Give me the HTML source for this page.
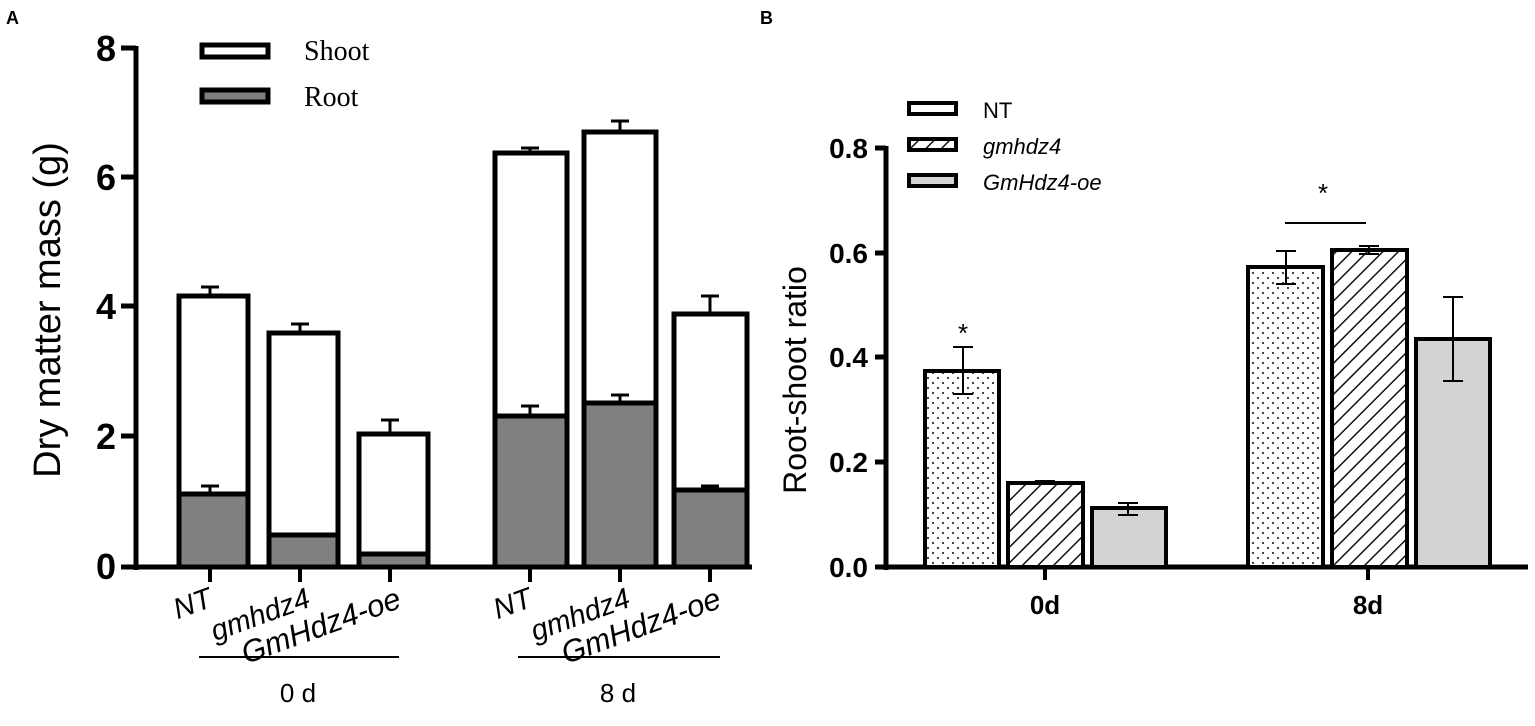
<!DOCTYPE html>
<html><head><meta charset="utf-8"><style>
html,body{margin:0;padding:0;background:#fff}
svg{display:block}
text{font-family:"Liberation Sans",Arial,sans-serif}
</style></head><body>
<svg width="1535" height="726" viewBox="0 0 1535 726" xmlns="http://www.w3.org/2000/svg">
<defs>
<pattern id="dots" width="10" height="10" patternUnits="userSpaceOnUse">
<rect width="10" height="10" fill="#fff"/><circle cx="3" cy="3" r="1.1" fill="#333"/><circle cx="8" cy="8" r="1.1" fill="#333"/>
</pattern>
<pattern id="hatch" width="11" height="11" patternUnits="userSpaceOnUse" patternTransform="rotate(45)">
<rect width="11" height="11" fill="#fff"/><line x1="0" y1="0" x2="0" y2="11" stroke="#111" stroke-width="3"/>
</pattern>
</defs>
<text x="6" y="24" font-size="18" font-weight="bold">A</text>
<g stroke="#000" stroke-width="5" fill="none">
<line x1="136" y1="46" x2="136" y2="570"/>
<line x1="121" y1="48" x2="136" y2="48"/>
<line x1="121" y1="177" x2="136" y2="177"/>
<line x1="121" y1="306" x2="136" y2="306"/>
<line x1="121" y1="436" x2="136" y2="436"/>
<line x1="121" y1="567" x2="752" y2="567"/>
</g>
<g font-size="36" font-weight="bold" text-anchor="end">
<text x="116" y="61">8</text><text x="116" y="190">6</text><text x="116" y="319">4</text><text x="116" y="449">2</text><text x="116" y="579">0</text>
</g>
<text transform="translate(60,310) rotate(-90)" font-size="38" text-anchor="middle">Dry matter mass (g)</text>
<rect x="202" y="45" width="66" height="12" fill="#fff" stroke="#000" stroke-width="5"/>
<rect x="202" y="90" width="66" height="12" fill="#808080" stroke="#000" stroke-width="5"/>
<text x="304" y="60" font-size="28" style="font-family:'Liberation Serif',serif">Shoot</text>
<text x="304" y="106" font-size="28" style="font-family:'Liberation Serif',serif">Root</text>
<g stroke="#000" stroke-width="5">
<rect x="179" y="296" width="69" height="271" fill="#fff"/>
<rect x="179" y="494" width="69" height="73" fill="#808080"/>
<rect x="269" y="333" width="69" height="234" fill="#fff"/>
<rect x="269" y="535" width="69" height="32" fill="#808080"/>
<rect x="359" y="434" width="69" height="133" fill="#fff"/>
<rect x="359" y="554" width="69" height="13" fill="#808080"/>
<rect x="495" y="153" width="72" height="414" fill="#fff"/>
<rect x="495" y="416" width="72" height="151" fill="#808080"/>
<rect x="584" y="132" width="72" height="435" fill="#fff"/>
<rect x="584" y="403" width="72" height="164" fill="#808080"/>
<rect x="674" y="314" width="73" height="253" fill="#fff"/>
<rect x="674" y="490" width="73" height="77" fill="#808080"/>
</g>
<g stroke="#000" stroke-width="3">
<line x1="210" y1="294" x2="210" y2="287"/><line x1="201" y1="287" x2="219" y2="287"/>
<line x1="210" y1="492" x2="210" y2="486"/><line x1="201" y1="486" x2="219" y2="486"/>
<line x1="300" y1="331" x2="300" y2="324"/><line x1="291" y1="324" x2="309" y2="324"/>
<line x1="390" y1="432" x2="390" y2="420"/><line x1="381" y1="420" x2="399" y2="420"/>
<line x1="530" y1="151" x2="530" y2="148"/><line x1="521" y1="148" x2="539" y2="148"/>
<line x1="530" y1="414" x2="530" y2="406"/><line x1="521" y1="406" x2="539" y2="406"/>
<line x1="620" y1="130" x2="620" y2="121"/><line x1="611" y1="121" x2="629" y2="121"/>
<line x1="620" y1="401" x2="620" y2="395"/><line x1="611" y1="395" x2="629" y2="395"/>
<line x1="710" y1="312" x2="710" y2="296"/><line x1="701" y1="296" x2="719" y2="296"/>
<line x1="710" y1="488" x2="710" y2="486"/><line x1="701" y1="486" x2="719" y2="486"/>
</g>
<g stroke="#000" stroke-width="4">
<line x1="210" y1="569" x2="210" y2="582"/><line x1="300" y1="569" x2="300" y2="582"/><line x1="390" y1="569" x2="390" y2="582"/>
<line x1="530" y1="569" x2="530" y2="582"/><line x1="620" y1="569" x2="620" y2="582"/><line x1="710" y1="569" x2="710" y2="582"/>
</g>
<g font-style="italic" text-anchor="end">
<text transform="translate(214,606) rotate(-20)" font-size="29">NT</text>
<text transform="translate(312,606) rotate(-20)" font-size="29">gmhdz4</text>
<text transform="translate(403,607) rotate(-20)" font-size="31">GmHdz4-oe</text>
<text transform="translate(534,606) rotate(-20)" font-size="29">NT</text>
<text transform="translate(632,606) rotate(-20)" font-size="29">gmhdz4</text>
<text transform="translate(723,607) rotate(-20)" font-size="31">GmHdz4-oe</text>
</g>
<g stroke="#000" stroke-width="2">
<line x1="199" y1="657" x2="399" y2="657"/><line x1="518" y1="657" x2="720" y2="657"/>
</g>
<text x="298" y="702" font-size="26" text-anchor="middle">0 d</text>
<text x="618" y="702" font-size="26" text-anchor="middle">8 d</text>

<text x="760" y="24" font-size="18" font-weight="bold">B</text>
<g stroke="#000" stroke-width="5" fill="none">
<line x1="886" y1="146" x2="886" y2="570"/>
<line x1="875" y1="148" x2="886" y2="148"/>
<line x1="875" y1="253" x2="886" y2="253"/>
<line x1="875" y1="357" x2="886" y2="357"/>
<line x1="875" y1="462" x2="886" y2="462"/>
<line x1="875" y1="567" x2="1528" y2="567"/>
</g>
<g font-size="28" font-weight="bold" text-anchor="end">
<text x="868" y="158">0.8</text><text x="868" y="263">0.6</text><text x="868" y="367">0.4</text><text x="868" y="472">0.2</text><text x="868" y="577">0.0</text>
</g>
<text transform="translate(806,380) rotate(-90)" font-size="32" text-anchor="middle">Root-shoot ratio</text>
<rect x="909" y="103" width="47" height="11" fill="#fff" stroke="#000" stroke-width="4"/>
<rect x="909" y="139" width="47" height="11" fill="url(#hatch)" stroke="#000" stroke-width="4"/>
<rect x="909" y="175" width="47" height="11" fill="#d3d3d3" stroke="#000" stroke-width="4"/>
<text x="983" y="118" font-size="22">NT</text>
<text x="983" y="154" font-size="22" font-style="italic">gmhdz4</text>
<text x="983" y="190" font-size="22" font-style="italic">GmHdz4-oe</text>
<g stroke="#000" stroke-width="4">
<rect x="925" y="371" width="74" height="196" fill="url(#dots)"/>
<rect x="1008" y="483" width="75" height="84" fill="url(#hatch)"/>
<rect x="1092" y="508" width="74" height="59" fill="#d3d3d3"/>
<rect x="1248" y="267" width="75" height="300" fill="url(#dots)"/>
<rect x="1332" y="250" width="75" height="317" fill="url(#hatch)"/>
<rect x="1416" y="339" width="74" height="228" fill="#d3d3d3"/>
</g>
<g stroke="#000" stroke-width="2">
<line x1="963" y1="347" x2="963" y2="394"/><line x1="953" y1="347" x2="973" y2="347"/><line x1="953" y1="394" x2="973" y2="394"/>
<line x1="1035" y1="481" x2="1055" y2="481"/>
<line x1="1128" y1="503" x2="1128" y2="515"/><line x1="1118" y1="503" x2="1138" y2="503"/><line x1="1118" y1="515" x2="1138" y2="515"/>
<line x1="1286" y1="251" x2="1286" y2="284"/><line x1="1276" y1="251" x2="1296" y2="251"/><line x1="1276" y1="284" x2="1296" y2="284"/>
<line x1="1369" y1="246" x2="1369" y2="254"/><line x1="1359" y1="246" x2="1379" y2="246"/><line x1="1359" y1="254" x2="1379" y2="254"/>
<line x1="1453" y1="297" x2="1453" y2="381"/><line x1="1443" y1="297" x2="1463" y2="297"/><line x1="1443" y1="381" x2="1463" y2="381"/>
<line x1="1285" y1="223" x2="1366" y2="223"/>
</g>
<text x="963" y="342" font-size="26" text-anchor="middle">*</text>
<text x="1323" y="202" font-size="26" text-anchor="middle">*</text>
<g stroke="#000" stroke-width="4">
<line x1="1045" y1="569" x2="1045" y2="580"/><line x1="1368" y1="569" x2="1368" y2="580"/>
</g>
<text x="1045" y="614" font-size="26" font-weight="bold" text-anchor="middle">0d</text>
<text x="1368" y="614" font-size="26" font-weight="bold" text-anchor="middle">8d</text>
</svg>
</body></html>
